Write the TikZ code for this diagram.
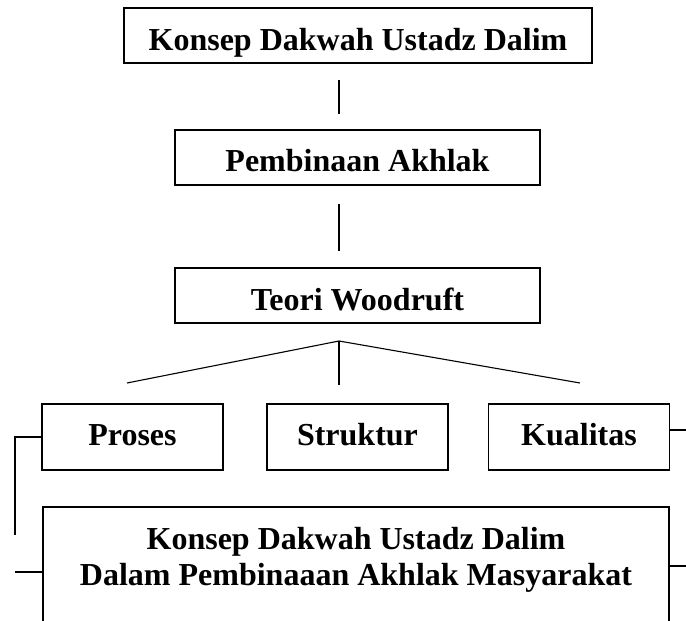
\documentclass[tikz,border=0pt]{standalone}
\usepackage{fontspec}
\setmainfont{Liberation Serif}

\tikzset{
  box/.style = {
    draw, line width = 1.8pt,
    inner sep = 0, outer sep = 0,
    font = \fontsize{32}{36}\selectfont\bfseries,
  },
  link/.style = {line width = 1.1pt},
}

\begin{document}
\begin{tikzpicture}[
        x = 1pt, y = -1pt,
      ]
      \useasboundingbox (0,0) rectangle (686,621);
      \clip (0,0) rectangle (686,621);

      \coordinate (axis) at (339,0);

      \node[
        box,
        minimum width = 468pt,
        minimum height = 55pt,
        text height = 29pt,
        text depth = 0pt,
      ] (konsep) at (358,35.5) {Konsep Dakwah Ustadz Dalim};

      \node[
        box,
        minimum width = 365pt,
        minimum height = 55pt,
        text height = 27pt,
        text depth = 0pt,
      ] (akhlak) at (357.5,157.5) {Pembinaan Akhlak};

      \node[
        box,
        minimum width = 365pt,
        minimum height = 55pt,
        text height = 29pt,
        text depth = 0pt,
      ] (teori) at (357.5,295.5) {Teori Woodruft};

      \draw[link, shorten <= 17pt, shorten >= 16pt]
        (konsep.south -| axis) -- (akhlak.north -| axis);
      \draw[link, shorten <= 19pt, shorten >= 17pt]
        (akhlak.south -| axis) -- (teori.north -| axis);

      \coordinate (fork) at (339,341);
      \foreach \name/\x/\desc/\tx/\ty in {
        proses/132.5/{Proses}/127/383,
        struktur/357.5/{Struktur}/339/385,
        kualitas/579/{Kualitas}/580/383%
      }{
        \node[
          box,
          minimum width = 181pt,
          minimum height = 66pt,
          text height = 16pt,
          text depth = 0pt,
        ] (\name) at (\x,437) {\desc};
        \coordinate (\name-end) at (\tx,\ty);
        \draw[link] (fork) -- (\name-end);
      }

      \node[
        box,
        anchor = north,
        minimum width = 626pt,
        text height = 42pt,
        text depth = 110pt,
      ] (hasil) at (356,507) {%
        \begin{tabular}[t]{@{}c@{}}
          Konsep Dakwah Ustadz Dalim\\
          Dalam Pembinaaan Akhlak Masyarakat
        \end{tabular}};

      % side connectors
      \coordinate (lfoot) at (15,535);
      \coordinate (lstub) at (15,572);
      \coordinate (rtop) at (686,430);
      \coordinate (rbot) at (686,566);
      \draw[link] (proses.west) -| (lfoot);
      \draw[link] (lstub) -- (lstub -| hasil.west);
      \draw[link] (kualitas.east |- rtop) -- (rtop);
      \draw[link] (hasil.east |- rbot) -- (rbot);

    \end{tikzpicture}
\end{document}
